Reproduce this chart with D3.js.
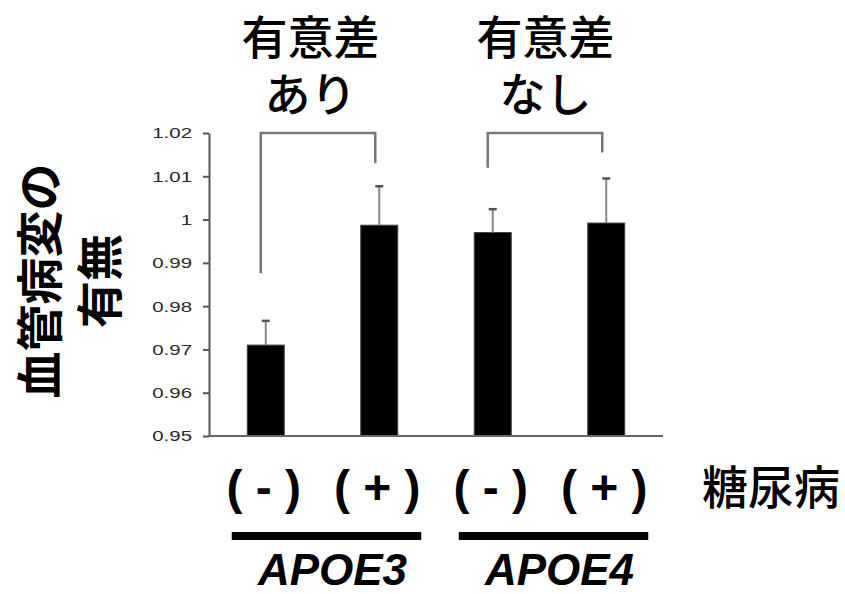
<!DOCTYPE html>
<html><head><meta charset="utf-8">
<script src="https://cdn.jsdelivr.net/npm/d3@7"></script>
<style>
body{margin:0;background:#fff;}
svg{display:block;}
</style></head>
<body>
<svg id="chart" width="845" height="594"></svg>
<script>
const categories = ["E3-", "E3+", "E4-", "E4+"];
const diabetesLabels = ["( - )", "( + )", "( - )", "( + )"];
const values = [0.971, 0.9987, 0.9970, 0.9992];
const errorTops = [0.9766, 1.0077, 1.0024, 1.0095];
const tickValues = [0.95, 0.96, 0.97, 0.98, 0.99, 1.00, 1.01, 1.02];
const tickLabels = ["0.95", "0.96", "0.97", "0.98", "0.99", "1", "1.01", "1.02"];
const groups = ["APOE3", "APOE4"];
const groupMembers = [[0, 1], [2, 3]];
const sigLabels = [["有意差", "あり"], ["有意差", "なし"]];
const bracketTop = 1.02;
const bracketLegEnds = [[0.9876, 1.013], [1.012, 1.0155]];
const yTitle = ["血管病変の", "有無"];
const diabetesTitle = "糖尿病";

const svg = d3.select("#chart");
const X0 = 209, X1 = 663, YT = 133, YB = 436;

const x = d3.scaleBand().domain(categories).range([X0, X1]).paddingInner(0.674).paddingOuter(0.337);
const y = d3.scaleLinear().domain([0.95, 1.02]).range([YB, YT]);
const cx = i => x(categories[i]) + x.bandwidth() / 2;

// y axis
const yAxis = d3.axisLeft(y).tickValues(tickValues).tickFormat((d, i) => tickLabels[i]).tickSize(6).tickSizeOuter(0).tickPadding(11);
const gy = svg.append("g").attr("transform", `translate(${X0},0)`).call(yAxis);
gy.select(".domain").attr("stroke", "#555").attr("stroke-width", 2);
gy.selectAll(".tick line").attr("stroke", "#555").attr("stroke-width", 2);
gy.selectAll(".tick text").attr("fill", "#2a2a2a")
  .style("font-family", "Liberation Sans, Arial, sans-serif").style("font-size", "15.5px")
  .each(function () {
    const w = this.getComputedTextLength();
    d3.select(this).attr("textLength", w * 1.32).attr("lengthAdjust", "spacingAndGlyphs");
  });

// bars
svg.append("g").selectAll("rect").data(values).join("rect")
  .attr("x", (d, i) => x(categories[i]))
  .attr("width", x.bandwidth())
  .attr("y", d => y(d))
  .attr("height", d => YB - y(d))
  .attr("fill", "#000").attr("stroke", "#444").attr("stroke-width", 1);

// x axis line
svg.append("line").attr("x1", X0).attr("x2", X1).attr("y1", YB).attr("y2", YB)
  .attr("stroke", "#666").attr("stroke-width", 2);

// error bars
const eg = svg.append("g");
errorTops.forEach((e, i) => {
  eg.append("line").attr("x1", cx(i)).attr("x2", cx(i)).attr("y1", y(values[i])).attr("y2", y(e))
    .attr("stroke", "#888").attr("stroke-width", 2);
  eg.append("line").attr("x1", cx(i) - 4).attr("x2", cx(i) + 4).attr("y1", y(e)).attr("y2", y(e))
    .attr("stroke", "#555").attr("stroke-width", 2.5);
});

// brackets
groupMembers.forEach((m, gi) => {
  const xa = cx(m[0]) - 5, xb = cx(m[1]) - 4;
  const path = d3.path();
  path.moveTo(xa, y(bracketLegEnds[gi][0]));
  path.lineTo(xa, y(bracketTop));
  path.lineTo(xb, y(bracketTop));
  path.lineTo(xb, y(bracketLegEnds[gi][1]));
  svg.append("path").attr("d", path.toString()).attr("fill", "none")
    .attr("stroke", "#777").attr("stroke-width", 2.5);
  // significance labels (one text, two lines)
  const mid = (cx(m[0]) + cx(m[1])) / 2 - 12 + gi * 8;
  const st = svg.append("text").attr("text-anchor", "middle")
    .style("font-family", "Noto Sans CJK JP, sans-serif").style("font-weight", 500)
    .style("font-size", "46px").attr("fill", "#000");
  sigLabels[gi].forEach((t, li) => {
    st.append("tspan").attr("x", mid).attr("y", 54 + li * 57).text(t);
  });
  // group underline
  svg.append("line").attr("x1", cx(m[0]) - 34).attr("x2", cx(m[1]) + 42)
    .attr("y1", 536).attr("y2", 536).attr("stroke", "#000").attr("stroke-width", 8);
  svg.append("text").attr("x", (cx(m[0]) + cx(m[1])) / 2 + 10).attr("y", 584.5)
    .attr("text-anchor", "middle")
    .style("font-family", "Liberation Sans, Arial, sans-serif").style("font-weight", "bold")
    .style("font-style", "italic").style("font-size", "44px").attr("fill", "#000").text(groups[gi]);
});

// diabetes labels
diabetesLabels.forEach((t, i) => {
  svg.append("text").attr("x", cx(i) - 2).attr("y", 487).attr("text-anchor", "middle")
    .attr("dominant-baseline", "central")
    .style("font-family", "Liberation Sans, Arial, sans-serif").style("font-weight", "bold")
    .style("font-size", "48px").attr("fill", "#000").style("white-space", "pre").text(t);
});
svg.append("text").attr("x", 771).attr("y", 484).attr("text-anchor", "middle")
  .attr("dominant-baseline", "central")
  .style("font-family", "Noto Sans CJK JP, sans-serif").style("font-weight", 500)
  .style("font-size", "46px").attr("fill", "#000").text(diabetesTitle);

// y title
yTitle.forEach((t, i) => {
  svg.append("text").attr("transform", `translate(${36 + i * 60},${281}) rotate(-90)`)
    .attr("text-anchor", "middle").attr("dominant-baseline", "central")
    .style("font-family", "Noto Sans CJK JP, sans-serif").style("font-weight", 700)
    .style("font-size", "47px").attr("fill", "#000").text(t);
});
</script>
</body></html>
